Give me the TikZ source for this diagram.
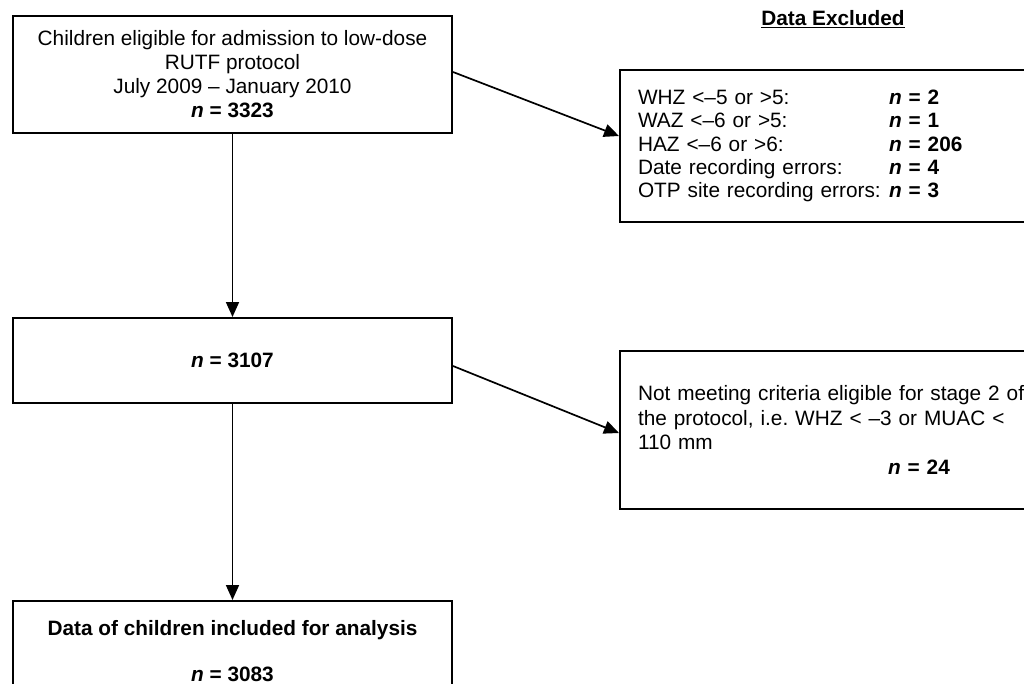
\documentclass[tikz,border=0pt]{standalone}
\usepackage{fontspec}
\setmainfont{Liberation Sans}
\usetikzlibrary{arrows.meta,calc}
\begin{document}
\begin{tikzpicture}
[ x=1pt, y=-1pt, line width=2pt
, font=\fontsize{20.8}{24}\selectfont
, box/.style={rectangle, draw, minimum width=439pt, align=center, inner sep=0pt}
, exclbox/.style={rectangle, draw, anchor=north west, minimum width=436pt, text width=400pt, inner xsep=18pt, align=left}
, arrow/.style={line width=1.7pt, -{Triangle[length=15pt,width=13pt]}}
]
\clip (0,0) rectangle (1024,683);
% Main column:
\node (eligible) [box, minimum height=117pt] at (232.5,74.5)
  {Children eligible for admission to low-dose\\ RUTF protocol\\ July 2009 – January 2010\\ \textbf{\textit{n} = 3323}};
\node (stage) [box, minimum height=85pt] at (232.5,360.5) {\textbf{\textit{n} = 3107}};
\node (included) [box, minimum height=100pt] at (232.5,651)
  {\textbf{Data of children included for analysis}\\[22pt] \textbf{\textit{n} = 3083}};
% Exclusions:
\node (title) at (833,19) {\underline{\textbf{Data Excluded}}};
\node (excl1) [exclbox, minimum height=152pt, font=\fontsize{20.8}{23.3}\selectfont] at (619,69)
  {\makebox[251pt][l]{WHZ <–5 or >5:}\textbf{\textit{n} = 2}\\
   \makebox[251pt][l]{WAZ <–6 or >5:}\textbf{\textit{n} = 1}\\
   \makebox[251pt][l]{HAZ <–6 or >6:}\textbf{\textit{n} = 206}\\
   \makebox[251pt][l]{Date recording errors:}\textbf{\textit{n} = 4}\\
   \makebox[251pt][l]{OTP site recording errors:}\textbf{\textit{n} = 3}\\[13pt]};
\node (excl2) [exclbox, minimum height=158pt, font=\fontsize{20.8}{24.7}\selectfont] at (619,350)
  {Not meeting criteria eligible for stage 2 of\\ the protocol, i.e.\ WHZ < –3 or MUAC <\\ 110 mm\\
   \hspace*{250pt}\textbf{\textit{n} = 24}};
% Connectors:
\draw [arrow] (eligible.south) -- (stage.north);
\draw [arrow] (stage.south) -- (included.north);
\draw [arrow] ([yshift=2.5pt]eligible.east) -- ([yshift=10pt]excl1.west);
\draw [arrow] ([yshift=-5.5pt]stage.east) -- ([yshift=-3pt]excl2.west);
\end{tikzpicture}
\end{document}
